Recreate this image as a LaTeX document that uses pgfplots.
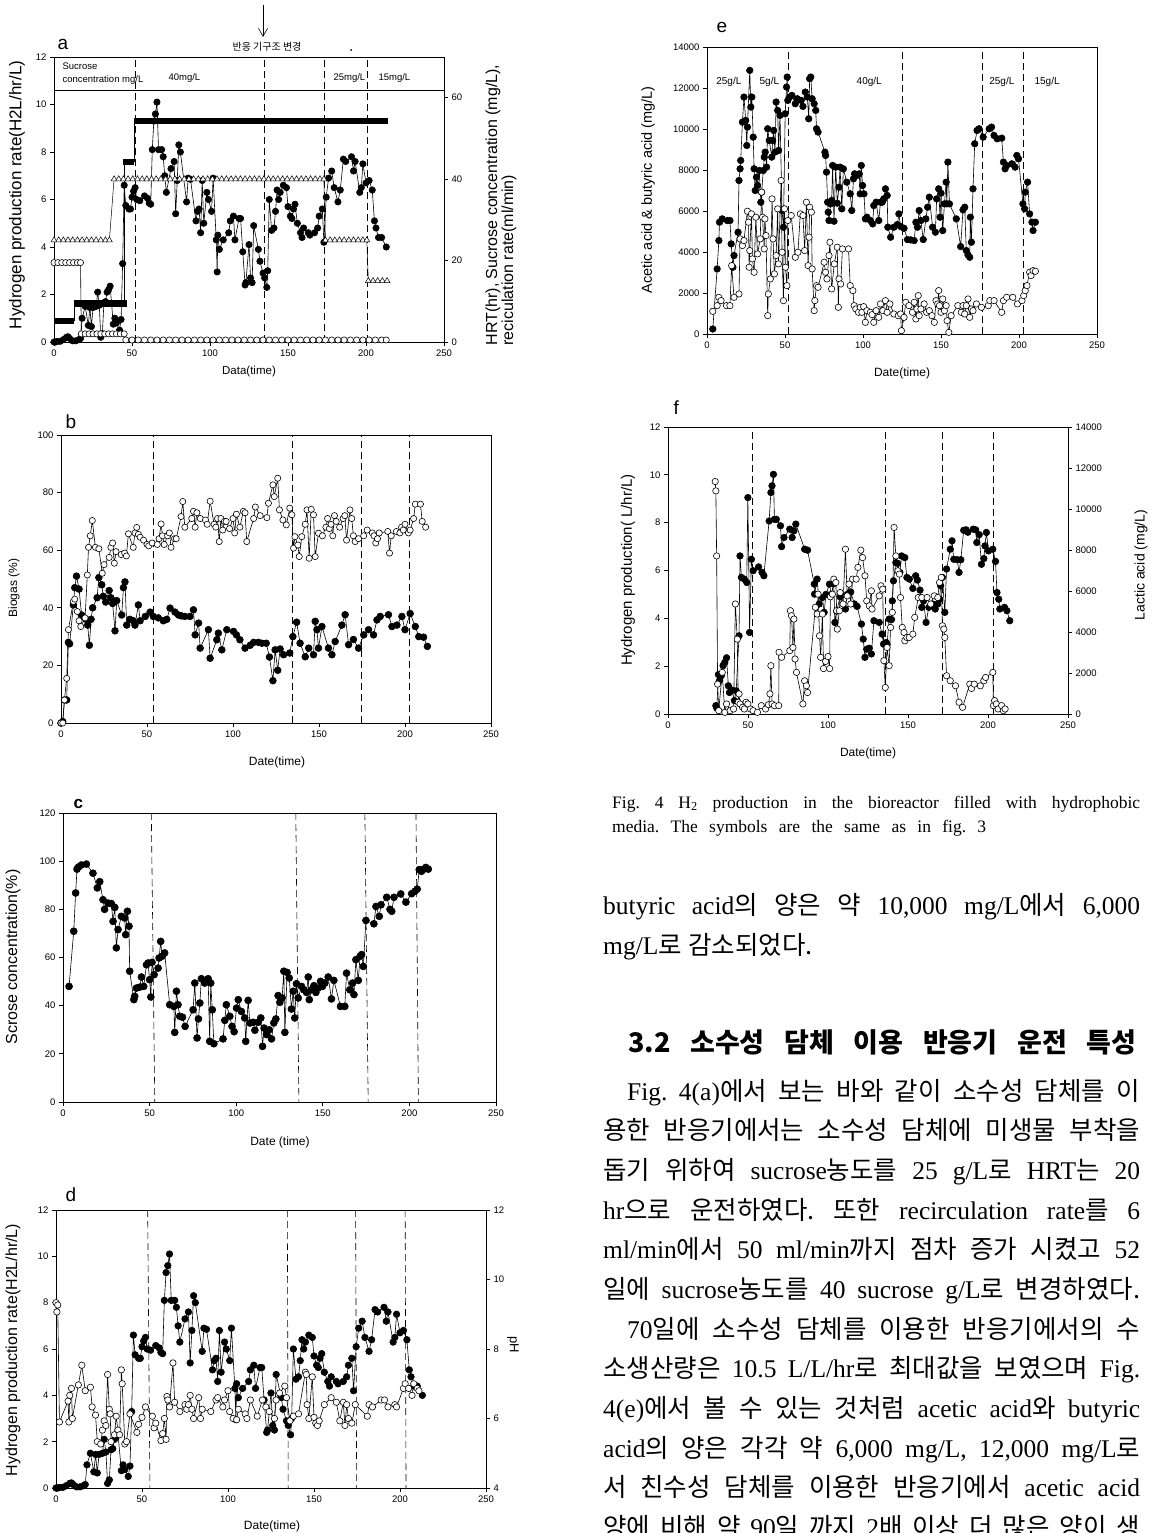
\documentclass[border=0pt]{standalone}
\usepackage{fontspec}
\setmainfont{Liberation Sans}
\newfontfamily\tnr{Liberation Serif}
\newfontfamily\kr{Noto Sans CJK KR}
\usepackage{pgfplots}
\usepackage{pgfplotstable}
\pgfplotsset{compat=1.18}
\usetikzlibrary{arrows.meta}
\newcommand\fs[1]{\fontsize{#1}{#1}\selectfont}
\newcommand\K[1]{{\kr #1}}

\pgfplotsset{
  panel/.style={scale only axis, anchor=south west, axis line style={line width=0.8pt},
    every tick/.style={black,line width=0.7pt}, tick align=outside, major tick length=4pt,
    xtick pos=bottom, ytick pos=left, tick label style={font=\fs{9.5}},
    /pgf/number format/assume math mode=true,
    /pgf/number format/set thousands separator={}, scaled y ticks=false, scaled x ticks=false,
    xmin=0, xmax=250, xtick={0,50,100,150,200,250}, clip=false},
  twin/.style={scale only axis, anchor=south west, axis x line=none, axis y line*=right,
    axis line style={line width=0.8pt}, every tick/.style={black,line width=0.7pt},
    tick align=outside, major tick length=4pt, tick label style={font=\fs{9.5}},
    /pgf/number format/assume math mode=true, scaled y ticks=false,
    /pgf/number format/set thousands separator={}, xmin=0, xmax=250, clip=false},
  fc/.style={black, line width=0.6pt, mark=*, mark size=3.3pt, mark options={fill=black, draw=black, solid}},
  oc/.style={black, line width=0.6pt, mark=*, mark size=3.3pt, mark options={fill=white, draw=black, line width=0.6pt, solid}},
  dsh/.style={black, line width=0.6pt, dash pattern=on 7pt off 4pt, mark=none},
}

% ---------------- data ----------------
\pgfplotstableread{
x y
0 0.0
1 0.0
2 0.02
4 0.03
6 0.1
8 0.2
9 0.22
10 0.15
12 0.05
14 0.05
16 0.1
17 0.15
18 1.0
20 1.5
22 0.7
23 1.45
24 0.65
25 1.45
27 1.5
28 2.1
29 1.55
30 0.2
31 0.35
32 1.65
33 1.7
34 2.1
35 2.2
36 2.35
38 0.75
39 1.0
40 0.8
42 0.5
43 0.95
44 3.3
45 6.6
46 5.75
48 5.6
49 5.6
50 6.1
51 6.35
52 6.5
53 6.0
55 5.95
58 6.15
60 6.05
61 5.85
62 5.8
63 8.1
64 9.3
65 9.6
66 10.1
67 8.1
69 8.1
70 7.8
71 7.0
72 6.3
75 7.3
77 7.6
78 5.4
79 6.8
80 8.3
81 8.0
85 5.9
86 6.9
87.5 6.85
91 5.1
92 5.5
93 5.6
94 4.6
95 6.8
96 5.0
98 6.3
99 6.0
101 5.5
102 6.9
104 4.3
104.6 2.95
105 4.5
106 3.9
108.5 4.3
112 4.6
113 5.1
115 5.3
116 4.3
118.6 5.2
119.6 5.2
121 3.8
122.5 2.4
123 2.5
125 4.1
126 2.7
127 2.5
128 4.9
131 3.9
132 3.4
134 2.9
135 2.7
136.4 2.3
137 3.0
138 6.0
139.5 4.7
141 4.8
142 5.5
143 6.4
144 6.0
145 6.3
147 6.6
149 6.5
150 5.7
151.5 5.3
152.5 5.2
153.5 5.6
154.5 5.8
156 5.0
158 4.6
159 4.4
160 4.8
163 4.6
164 4.5
167 4.6
169 4.8
170 5.3
172 5.6
173 4.2
174.5 6.1
176 6.9
178 7.2
179.6 6.5
182 5.9
183.5 6.4
185.5 7.7
187 7.6
190.7 7.8
192 7.2
193 7.6
196 6.3
197 6.5
198 7.5
200 6.7
202 6.8
204 6.4
205.4 5.1
206.4 4.8
208 4.4
210 4.4
213 4.0
}\hdata

\pgfplotstableread{
x y
0 25
3 25
6 25
9 25
12 25
15 25
18 25
21 25
24 25
27 25
30 25
33 25
35.5 25
38.5 40
41.5 40
44.5 40
47.5 40
50.5 40
53.5 40
56.5 40
59.5 40
62.5 40
65.5 40
68.5 40
71.5 40
74.5 40
77.5 40
80.5 40
83.5 40
86.5 40
89.5 40
92.5 40
95.5 40
98.5 40
101.5 40
104.5 40
107.5 40
110.5 40
113.5 40
116.5 40
119.5 40
122.5 40
125.5 40
128.5 40
131.5 40
134.5 40
137.5 40
140.5 40
143.5 40
146.5 40
149.5 40
152.5 40
155.5 40
158.5 40
161.5 40
164.5 40
167.5 40
170.5 40
173 40
174 25
177 25
180 25
183 25
186 25
189 25
192 25
195 25
198 25
200.5 25
201.5 15
204.5 15
207.5 15
210.5 15
213.5 15
}\asuc

\pgfplotstableread{
x y
0 19.5
2.5 19.5
5 19.5
7.5 19.5
10 19.5
12.5 19.5
15 19.5
17 19.5
17.5 2
20 2
22.5 2
25 2
27.5 2
30 2
32.5 2
35 2
37.5 2
40 2
42.5 2
45 2
46 0.5
50 0.5
54 0.5
58 0.5
62 0.5
66 0.5
70 0.5
74 0.5
78 0.5
82 0.5
86 0.5
90 0.5
94 0.5
98 0.5
102 0.5
106 0.5
110 0.5
114 0.5
118 0.5
122 0.5
126 0.5
130 0.5
134 0.5
138 0.5
142 0.5
146 0.5
150 0.5
154 0.5
158 0.5
162 0.5
166 0.5
170 0.5
174 0.5
178 0.5
182 0.5
186 0.5
190 0.5
194 0.5
198 0.5
202 0.5
206 0.5
210 0.5
213 0.5
}\arec

\pgfplotstableread{
x y
0 0
1 0.5
2 8
3.3 8
4.3 28
5 27.5
7.2 41
8 47
9 51
10.5 46.5
12 37.5
14.5 36
15.5 34
16.5 27
17.5 36
18.4 40
21 43.5
22 50.5
23.7 48
24.6 44
26 42
28 46
29 43.5
30 41.5
31.4 32
32.4 42.5
35.3 37.5
36.3 47
37.2 49
38.2 34
40 36
42 35.5
43 34
45 41
46 35.5
49 37
51.8 38.5
53.7 37
56.6 36.5
59.5 35.5
61.5 36
63.4 39.9
66.3 38.5
68.3 37.5
70 37.2
72 37
75 37
77 39.3
78 30.6
80 34.7
80.9 26
85.7 32.4
86.7 22.5
90.6 28.9
91.5 31.2
93.5 25.4
96.4 32.4
100.3 31.8
102 30.6
104 28.9
107 26
110 27
112 28
114.8 28
116.8 27.7
119.3 27.7
121.2 22.9
123.2 14.7
124.5 25.4
126 18.3
127.4 25.7
129.4 23.7
133 24.3
134.8 30
137 35
139 27.7
142 23
144 26
146.8 23.7
147.8 35.3
148.8 32.4
149.7 26
151.7 33.5
155.5 26
157.5 23.7
159.4 28.3
163.3 34
165.2 37.6
167.2 27.2
170 29
173 26
176 30.6
178.8 32.4
181.7 30.6
183.7 35.8
185.6 37
190.4 37.6
192.4 33.5
195.3 34
198.2 37
200 32.4
203 38
206 33.5
208 30
210.8 29.8
213 26.6
}\bH

\pgfplotstableread{
x y
0 0
1 0
2 8
3.3 15.5
4.3 32.4
7.2 42.2
8 43
9.5 38.7
10.5 35.5
11.5 33.5
14 36.5
15.3 51.4
16 61
17 65
18.2 70.3
20 61
22 60.5
24 52
25 55
28 57.5
29 61
30 62.5
31 55.5
32 59.5
35 58.5
37 59
38 58
39.2 65.7
42 61
43 66
44 67.9
45 65.5
46 64.5
48 63.5
50 62
51 61.5
53 62.5
56 62
57 64
58.2 69.1
59 65
60 62
62 65
63 66
64 61
66 64
67 64
69.8 71.7
70.8 76.9
72 68
76 71
77 73.5
78 68
79 73
81 71
84 70.5
85 69
86.7 77
89 69
90 68
91 71
92 63
93 71
94 67
95 70
96 70
98 67.5
100 71
101 66
102 72.5
104 68
106 73.5
107 73
108 63
112 71
113 75
115.8 72
119.7 71.3
120.6 76.3
123.2 82.7
124 78.6
126 85
127 74
129 70.5
131 68.8
133 74.6
134.2 72.3
135.2 60.7
136 64.7
137.7 61.8
138.5 57.8
140 64.7
142 69
143 74
144.3 57.2
145.5 74.2
146.8 72.3
147.8 57.8
149.7 65.9
152 65
154 68
155 71
156 67.5
157 69
158 65
159 72
160 70
162 68
164 71
165 72
166 63.5
168 74
169 71
170 65
171 63
173 64
176 65
178 67
181 66
182 65
183 62.5
184 64
185 66
190 66.5
191 59
192 65
195 66.5
197 66
198 68
199 67
200 69
202 66
203 67
205 71
206 76
209 76
210 70
212 68
}\bC

\pgfplotstableread{
x y
3.5 48
6.2 70.9
7.3 86.8
8.1 96.7
9 97.6
10.6 98.4
13.5 98.8
17.3 95
19.8 88.9
21.2 91.5
23.1 84
24 80
26 82.6
27.9 82.4
28.9 75
29.9 80.8
30.8 64
31.8 71.6
33.7 77.1
35.6 76.4
36.2 69.5
37.2 79.2
38.1 73
38.5 54.3
40.9 42.5
41.4 43.9
42.4 47.3
44.3 47.7
45.3 51.9
46.6 48
48.2 57
49.1 57.7
50 50.8
50.7 43.6
51.4 58
52.6 52.9
54.9 55.6
55.5 59.8
56.4 66.7
57.2 60.5
58.7 61.9
61.6 40.4
64 39.7
64.5 28.9
65.5 46
66.4 40.4
67.4 35.6
69 35.2
70.5 31.4
75.1 38.3
76.1 49.4
77.4 26.6
78.2 34.5
79 41.1
79.9 51.2
81.8 49.4
83.8 51.2
84.7 25.2
85.3 49.4
86.2 38.3
87.1 24.2
92.4 26.2
93.4 33.9
94.3 40.4
96.3 35.6
97.6 31.4
98.8 29.2
100.2 39
101.2 42.5
103 37.6
104.9 34.9
105.5 25.2
106.9 42.2
107.9 32.8
109.8 33.1
110.8 29.8
112.7 33.1
114.2 34.9
115.2 23.1
116.1 30.7
117.5 28
119 30
120.4 26.2
121.7 32.8
122.9 34.5
124.2 44.2
125.2 41.4
126.5 43.2
127.5 54.3
128.1 28.9
129.4 53.8
130.6 51.5
131.9 38.6
132.9 46
133.8 34.9
134.8 49.1
135.8 43.2
137.7 48
139.1 46.6
140.6 45.5
141.6 51.9
142.2 42.5
143.5 46.6
144.9 48.3
146 45.5
147.3 47.3
148.7 50.1
149.8 48
151.2 49.4
153.1 51.9
155 42.8
156.4 50.5
160.2 39.7
162.7 39.7
163.7 53.5
165.6 46.6
167.2 49.4
168 44.6
169.1 59.1
170.5 50.5
171.5 60.5
172.4 61.2
173.4 56.3
174.9 75.4
179.5 74
180.7 81.2
182.6 77.1
183.6 81.9
186.9 85
188.8 80
189.8 79.2
191.1 85
195 86.4
198 83
201.3 86.5
203.2 87.5
204.5 88.4
205.7 96.5
207 95.8
208.4 96.7
209.5 97.4
210.9 96.7
}\cS

\pgfplotstableread{
x y
0 8.0
0.5 7.6
1 7.9
2 2.85
7 3.75
7.5 2.85
8 4.0
9 4.3
9.5 3.0
13 4.45
15 5.3
17 4.2
20 4.35
21 3.5
23 3.15
24 2.0
26 1.9
27 2.5
28 2.9
29 2.7
30 4.9
31 3.4
31.5 3.2
32 2.0
34 2.3
35 3.1
36 2.5
37 2.3
38 5.1
38.5 4.5
40 1.9
41 2.0
43 3.2
47 2.4
48 2.75
50 3.05
52 3.5
56 3.1
57 2.6
58 2.8
61 2.05
62 2.35
63 3.0
64 2.1
64.5 3.95
65 3.8
66 3.5
68 5.4
69 3.7
72 3.3
75 3.6
76 3.4
77 3.6
78 4.0
79 3.4
80 3.0
83 3.9
84 3.0
85 3.4
90 3.3
93 3.8
94 3.9
97 3.5
98 3.8
100 4.2
101 3.3
103 3.0
105 2.95
106 3.4
110 3.2
111 3.0
113 3.8
117 3.1
120 3.8
122 3.5
124 3.3
127 3.0
128 3.8
130 4.1
133 4.4
134 3.9
136 2.9
138 3.1
141 3.2
145 5.0
145.5 4.9
146 3.6
147 3.0
149 4.8
150 3.05
151 2.8
152 2.7
153 2.9
156 3.6
160 3.9
163 3.7
165 2.9
167 3.7
168 2.7
169 3.6
170 3.0
172 2.8
174 3.6
181 3.1
182 3.6
184 3.5
189 3.8
191 3.8
193 3.5
197 3.6
198 3.5
202 4.3
203 4.5
205 4.3
207 4.0
208 4.5
210 4.3
211 4.2
}\dP

\pgfplotstableread{
x y
3.7 244
6.5 3174
7.6 4558
8 5453
9.7 5616
13 5535
14.7 5535
15.5 4395
16.6 3256
17.3 3826
19.9 4965
20.5 7488
21.2 8058
21.6 8465
22.7 10337
23.7 11558
24.8 10418
25.5 9197
25.9 10093
27.4 12860
28.1 11069
28.7 11558
29.6 9604
30.2 8058
30.9 7000
31.7 7651
32.4 7244
33.5 7976
34.5 6430
35 6918
36.1 7976
36.7 8628
37.3 8872
38.2 8139
38.9 10011
39.9 9441
41.5 8628
42.1 9441
42.7 9930
43.6 8872
44.3 11314
45.3 10907
45.9 8953
46.8 10663
48.1 6023
49 5209
50.1 10744
51 12046
51.4 12534
51.8 11395
52.9 11558
54.4 11639
56.6 11232
57.9 11476
60.4 11395
61.5 11102
63 11802
64.3 11558
65.2 10500
65.8 12453
66.5 12534
67.4 11476
68.7 11232
69.7 10907
70.2 10011
71.2 9849
75.6 8872
76 8709
76.6 7895
77.3 6430
77.7 5942
78.2 5535
79.2 6349
79.9 6512
80.5 8221
81.4 5502
82.5 8139
83.5 6381
84.6 7163
85.3 8139
86.4 6105
87.4 8058
89.6 7407
91.8 6837
92.8 6023
93.9 7570
94.6 7814
96.1 7732
97.6 7814
98.2 6837
98.9 8221
99.7 7244
100.6 6837
101.5 5616
102.5 5697
104.7 5535
106.2 5372
106.9 6267
108.4 6430
110.1 5535
111.2 6430
112.3 6430
113.3 6593
114.4 7081
115.5 6756
115.9 5209
117.7 4721
119.8 5209
122 5339
123 5860
124.1 5242
126.3 5160
128.5 4607
130.6 4590
132.8 4558
133.9 5453
134.9 5209
136 6023
137.1 5535
138.6 4607
140.3 5616
141.4 6186
142.5 6674
144.6 5209
146.4 4965
147.2 6593
148.5 7081
149.4 5697
150 6870
151.1 5046
152.2 6349
153.3 7407
153.7 6349
154.4 8384
155.4 6349
159.8 5616
162.6 4265
164.1 6056
165.2 6186
166.2 4070
167.3 3858
168.4 3744
168.8 5697
169.5 4477
170.5 7081
171.6 9279
173.1 9930
174.4 10011
177 9604
180.9 10011
182.4 10093
184 9686
186 9523
188.9 9555
190 8384
191.1 8058
192.1 8221
195.4 8302
197.5 8139
198.6 8709
199.7 8547
202.5 6349
203.6 6105
204 6918
205.5 7407
206.8 5860
208.3 5453
209 5046
210.5 5453
}\eB

\pgfplotstableread{
x y
3.7 1107
6.5 1384
7.6 1790
9 1628
12.5 1384
14.7 1384
15.8 3337
17.3 1790
20.5 1953
21.2 4640
22.7 4314
23.7 4558
25.9 5990
26.6 5453
27 3256
27.4 4070
28.5 5860
29.1 3663
30.2 3012
31.3 5697
32.4 3907
34.1 4640
35 6918
35.6 5697
36.7 4151
37.1 5616
37.8 4802
38.9 895
39.3 1953
40.6 2686
41.7 6593
42.3 4640
43.2 2930
44.3 3826
45.3 6105
45.8 3418
47.5 7488
48.1 3988
49 1628
49.7 6105
50.3 3256
51.2 2360
51.8 5535
54 5779
56.6 3744
58.3 3988
59.8 5860
61.5 5779
62.6 4070
63.7 6430
64.8 3337
65.4 4721
65.8 6186
66.9 5942
67.4 3174
68.7 1139
69.1 1628
70.2 2360
71.2 2279
75.1 3500
76 3012
76.9 2686
78.2 3826
78.8 4477
79.9 2198
81.6 3418
83.5 4233
84.2 1302
84.6 2686
85.7 2442
86.8 4151
90.7 4151
91.8 2360
93.5 2116
94.3 1384
95.4 1221
97.1 1058
98.2 1302
99.3 1058
100.4 1335
101.5 570
102.5 1139
104.7 1058
105.8 944
106.9 570
108.4 1139
110.1 814
111.2 1465
112.7 1139
114.4 1628
115.5 1058
117.2 1465
119.8 977
122.6 895
124.1 977
124.6 163
126.3 814
127.4 1547
129.5 1384
131.7 1058
132.8 1547
133.9 733
134.5 1221
135.4 1872
136 895
137.1 1221
139.2 1465
140.8 1058
142.5 1139
144.2 895
145.7 570
146.8 1628
147.9 1465
148.5 2116
149 1384
150 1058
151.1 1709
152.2 1139
153.3 1384
153.9 651
155 81
156.5 895
160.8 1384
163 1058
164.1 1384
165.2 977
166.2 1384
167.3 1709
168.4 814
169.5 1221
170.5 1139
172.7 1465
175.9 1302
180.3 1384
181.3 1628
184 1628
188.9 1058
190 1628
192.1 1790
196 1790
199 1465
201.9 1628
203 1872
204 2116
205.1 2360
206.8 3012
207.7 2848
209 3093
210.5 3060
}\eA

\pgfplotstableread{
x y
29.9 0.35
30.5 0.25
31.5 1.65
32.2 1.4
33.3 1.6
34.4 2.02
35.5 2.16
36.6 2.35
37.7 1.18
38.4 0.9
39.9 1.0
41.5 0.56
42.6 0.97
44.4 3.27
45 6.61
45.9 5.71
47.7 5.64
49.2 5.5
49.9 9.05
51 3.41
52.1 6.47
53.2 5.99
56.6 6.15
58.8 5.92
59.9 5.78
63.2 8.07
64.3 9.26
65 9.54
65.9 10.02
66.5 8.14
67.7 8.14
70.3 7.87
71 7.0
72.5 7.38
76.1 7.73
77.6 7.38
78.7 7.66
79.9 7.94
85.4 6.89
87.2 6.85
91.4 5.43
91.6 5.01
93.2 5.64
94.5 4.6
96.5 4.87
97.6 4.25
98.7 5.0
100.9 5.43
102 5.0
103.6 5.45
104.3 3.83
105.4 4.3
107.6 4.9
110.9 4.39
112 5.0
114.2 5.1
116.5 4.6
118.2 4.5
120.9 3.76
122 3.13
123.1 2.37
124.2 2.71
125.8 2.75
127.1 2.51
128.7 3.9
132 3.83
133.8 3.34
134.7 2.92
136.4 2.99
136.9 2.9
138.2 3.97
139.7 3.95
140.2 4.73
140.9 5.57
142.4 6.33
143.5 6.3
144.9 5.92
146 6.61
148 6.54
149.3 5.71
150.8 5.64
153 5.25
154.8 5.78
155.9 5.6
157.5 5.18
158.6 4.46
159.7 4.73
161.3 3.83
163 4.46
165.3 4.6
167 4.39
168.6 4.6
169.7 4.8
170.4 5.36
171.5 5.71
173 4.25
174.1 6.06
176.4 6.89
177.5 7.24
178.6 6.47
180.8 6.45
181.9 5.92
183 6.45
184.8 7.68
186.3 7.7
187.4 7.6
190.8 7.73
192.3 7.7
193 7.17
194.5 7.5
195.9 6.26
197.4 6.5
198.1 7.03
199 7.59
200.3 6.82
203 6.89
204.7 6.38
205.6 5.08
206.7 4.8
207.4 4.39
210.3 4.46
211.8 4.32
213.6 3.9
}\fH

\pgfplotstableread{
x y
29.5 9.72
29.9 9.33
30.4 6.61
31 1.25
31.7 0.14
33.9 1.74
35.5 0.07
36.6 0.42
38.8 0.14
41 0.21
42.1 4.6
43.3 3.13
43.9 0.49
44.4 0.84
45 0.42
46.6 0.28
47.7 0.21
48.8 0.49
49.9 0.42
51.5 0.21
53.2 0.14
55.9 0.07
58.3 0.35
61 0.21
62.8 0.39
63.7 0.84
64.3 2.02
65 0.42
66.5 0.35
69.2 0.35
69.4 2.58
71 2.37
76.1 2.65
76.5 4.32
77.2 4.11
78.1 2.78
78.7 3.97
79.4 2.3
80.3 1.74
84.3 0.42
85.4 1.39
86.5 1.18
87.2 0.9
92.1 4.46
93.2 4.18
93.8 5.01
94.7 3.27
95.4 2.37
96.5 4.18
97.2 1.9
98.5 2.2
100 2.4
101 1.9
101.5 4.9
102.7 5.01
103.6 5.64
104.9 5.5
105.4 4.32
105.8 3.55
107.1 4.32
107.6 5.08
109.4 4.6
110.9 6.89
112 4.94
113.1 5.43
114.2 4.6
115.4 5.64
117.6 5.64
118.7 6.13
120.5 6.85
121.6 6.54
123.1 5.78
124.2 4.73
125.8 4.52
127.1 5.15
127.5 4.39
132 4.94
133.1 5.36
134.2 5.22
134.9 2.23
135.8 1.11
136.9 2.78
138.2 2.02
139.1 3.62
140.2 4.25
141.3 7.8
142.4 6.61
143.7 5.99
144.6 5.85
145.3 4.87
146.4 3.62
147.5 3.41
148 3.06
149.3 3.2
150.8 3.2
153 3.34
154.2 4.04
156.4 4.87
158.6 4.87
161.9 4.87
164.2 4.6
166.4 4.94
168.6 4.87
169.7 5.5
170.8 5.71
171.5 3.69
172.4 3.55
173 3.2
174.1 1.6
176.4 1.39
179.7 1.18
181.9 0.49
184.1 0.28
188.6 1.25
189.7 1.07
191.4 1.25
195.2 1.18
197.4 1.39
198.5 1.53
203 1.74
203.4 0.35
204.1 0.56
205.2 0.42
206.3 0.21
208.5 0.35
209.6 0.14
210.7 0.21
}\fL

\begin{document}
\frenchspacing
\begin{tikzpicture}[x=1pt,y=1pt]
\fill[white] (0,0) rectangle (1152,-1533);
\path[use as bounding box] (0,0) rectangle (1152,-1533);

% ================= panel a =================
\begin{axis}[panel, at={(54pt,-342pt)}, width=390pt, height=285pt, ymin=0, ymax=12, ytick={0,2,4,6,8,10,12}]
\addplot[dsh] coordinates {(52,0) (52,12)};
\addplot[dsh] coordinates {(135,0) (135,12)};
\addplot[dsh] coordinates {(173,0) (173,12)};
\addplot[dsh] coordinates {(201,0) (201,12)};
\addplot[black, line width=0.7pt, mark=none] coordinates {(0,10.6) (250,10.6)};
\addplot[fc, mark size=3.2pt] table[x=x,y=y] {\hdata};
\end{axis}
\begin{axis}[twin, at={(54pt,-342pt)}, width=390pt, height=285pt, ymin=0, ymax=70, ytick={0,20,40,60}]
\addplot[black, line width=6.5pt, mark=none] coordinates {(0,5.1) (13,5.1)};
\addplot[black, line width=6.5pt, mark=none] coordinates {(12.5,9.4) (47,9.4)};
\addplot[black, line width=6.5pt, mark=none] coordinates {(44.5,44.2) (51,44.2)};
\addplot[black, line width=6.5pt, mark=none] coordinates {(51.5,54.3) (214,54.3)};
\addplot[black, line width=0.6pt, mark=none] coordinates {(13,5.1) (13,9.4)};
\addplot[black, line width=0.6pt, mark=none] coordinates {(45,9.4) (45,44.2)};
\addplot[black, line width=0.6pt, mark=none] coordinates {(51.2,44.2) (51.2,54.3)};
\addplot[black, line width=0.5pt, mark=triangle*, mark size=3.4pt, mark options={fill=white, draw=black, line width=0.5pt}] table[x=x,y=y] {\asuc};
\addplot[oc, mark size=3.1pt] table[x=x,y=y] {\arec};
\end{axis}
\node[anchor=base west, font=\fs{19}] at (54,-50) {a};
\node[anchor=base west, font=\fs{9.5}] at (59,-70) {Sucrose};
\node[anchor=base west, font=\fs{9.5}] at (59,-83) {concentration mg/L};
\node[anchor=base west, font=\fs{9.5}] at (165,-81) {40mg/L};
\node[anchor=base west, font=\fs{9.5}] at (330,-81) {25mg/L};
\node[anchor=base west, font=\fs{9.5}] at (375,-81) {15mg/L};
\draw[line width=0.6pt, -{Straight Barb[length=8pt,width=9pt]}] (263,-5) -- (263,-37);
\node[font=\kr\fs{10}] at (267,-47) {반응 기구조 변경};
\fill (351,-50) circle (1pt);
\node[rotate=90, font=\fs{17}] at (17,-195) {Hydrogen production rate(H2L/hr/L)};
\node[rotate=90, anchor=west, font=\fs{16}] at (493,-349) {HRT(hr), Sucrose concentration (mg/L),};
\node[rotate=90, anchor=west, font=\fs{16}] at (509,-349) {reciculation rate(ml/min)};
\node[font=\fs{11.5}] at (249,-372) {Data(time)};

% ================= panel b =================
\begin{axis}[panel, at={(61pt,-723pt)}, width=430pt, height=288pt, ymin=0, ymax=100, ytick={0,20,40,60,80,100}]
\addplot[dsh] coordinates {(53.7,0) (53.7,100)};
\addplot[dsh] coordinates {(134.2,0) (134.2,100)};
\addplot[dsh] coordinates {(174.4,0) (174.4,100)};
\addplot[dsh] coordinates {(202.7,0) (202.7,100)};
\addplot[fc, mark size=3.4pt] table[x=x,y=y] {\bH};
\addplot[oc, mark size=3.1pt] table[x=x,y=y] {\bC};
\end{axis}
\node[anchor=base west, font=\fs{19}] at (62,-428) {b};
\node[rotate=90, font=\fs{12}] at (14,-588) {Biogas (\%)};
\node[font=\fs{12}] at (277,-762) {Date(time)};

% ================= panel c =================
\begin{axis}[panel, at={(63pt,-1102pt)}, width=433pt, height=289pt, ymin=0, ymax=120, ytick={0,20,40,60,80,100,120}]
\addplot[dsh] coordinates {(51,120) (53,0)};
\addplot[dsh] coordinates {(134.4,120) (136.2,0)};
\addplot[dsh] coordinates {(174.3,120) (176.2,0)};
\addplot[dsh] coordinates {(203.8,120) (205.2,0)};
\addplot[fc, mark size=3.5pt] table[x=x,y=y] {\cS};
\end{axis}
\node[anchor=base west, font=\bfseries\fs{17}] at (70,-808) {c};
\node[rotate=90, font=\fs{16}] at (13,-957) {Scrose concentration(\%)};
\node[font=\fs{12}] at (280,-1142) {Date (time)};

% ================= panel d =================
\begin{axis}[panel, at={(56pt,-1488pt)}, width=430pt, height=278pt, ymin=0, ymax=12, ytick={0,2,4,6,8,10,12}]
\addplot[dsh] coordinates {(53.3,12) (54.6,0)};
\addplot[dsh] coordinates {(134.5,12) (135,0)};
\addplot[dsh] coordinates {(174.2,12) (174.8,0)};
\addplot[dsh] coordinates {(203,12) (203.5,0)};
\addplot[fc, mark size=3.3pt] table[x=x,y=y] {\hdata};
\addplot[oc, mark size=3.2pt] table[x=x,y=y] {\dP};
\end{axis}
\begin{axis}[twin, at={(56pt,-1488pt)}, width=430pt, height=278pt, ymin=4, ymax=12, ytick={4,6,8,10,12}]
\addplot[draw=none, mark=none] coordinates {(0,4)};
\end{axis}
\node[anchor=base west, font=\fs{19}] at (62,-1201) {d};
\node[rotate=90, font=\fs{16}] at (13,-1350) {Hydrogen production rate(H2L/hr/L)};
\node[font=\fs{12}] at (272,-1526) {Date(time)};
\node[rotate=-90, font=\fs{13}] at (513,-1345) {pH};

% ================= panel e =================
\begin{axis}[panel, at={(707pt,-334pt)}, width=390pt, height=287pt, ymin=0, ymax=14000, ytick={0,2000,4000,6000,8000,10000,12000,14000}]
\addplot[dsh] coordinates {(52,0) (52,14000)};
\addplot[dsh] coordinates {(125.2,0) (125.2,14000)};
\addplot[dsh] coordinates {(176.6,0) (176.6,14000)};
\addplot[dsh] coordinates {(203,0) (203,14000)};
\addplot[fc, mark size=3.3pt] table[x=x,y=y] {\eB};
\addplot[oc, mark size=3.2pt] table[x=x,y=y] {\eA};
\node[font=\fs{10}] at (axis cs:14,12300) {25g/L};
\node[font=\fs{10}] at (axis cs:40,12300) {5g/L};
\node[font=\fs{10}] at (axis cs:104,12300) {40g/L};
\node[font=\fs{10}] at (axis cs:189,12300) {25g/L};
\node[font=\fs{10}] at (axis cs:218,12300) {15g/L};
\end{axis}
\node[anchor=base west, font=\fs{19}] at (713,-33) {e};
\node[rotate=90, font=\fs{14.5}] at (648,-190) {Acetic acid \& butyric acid (mg/L)};
\node[font=\fs{12}] at (902,-373) {Date(time)};

% ================= panel f =================
\begin{axis}[panel, at={(668pt,-714pt)}, width=400pt, height=287pt, ymin=0, ymax=12, ytick={0,2,4,6,8,10,12}]
\addplot[dsh] coordinates {(52.8,0) (52.8,12)};
\addplot[dsh] coordinates {(135.8,0) (135.8,12)};
\addplot[dsh] coordinates {(171.5,0) (171.5,12)};
\addplot[dsh] coordinates {(203,0) (203,12)};
\addplot[fc, mark size=3.3pt] table[x=x,y=y] {\fH};
\addplot[oc, mark size=3.2pt] table[x=x,y=y] {\fL};
\end{axis}
\begin{axis}[twin, at={(668pt,-714pt)}, width=400pt, height=287pt, ymin=0, ymax=14000, ytick={0,2000,4000,6000,8000,10000,12000,14000}]
\addplot[draw=none, mark=none] coordinates {(0,0)};
\end{axis}
\node[anchor=base west, font=\fs{19}] at (670,-414) {f};
\node[rotate=90, font=\fs{15}] at (628,-570) {Hydrogen production( L/hr/L)};
\node[rotate=90, font=\fs{14}] at (1141,-565) {Lactic acid (mg/L)};
\node[font=\fs{12}] at (868,-753) {Date(time)};

% ================= caption & text =================
\node[anchor=base west, inner sep=0pt, font=\tnr\fs{17.5}] at (612,-808) {\makebox[528pt][s]{Fig. 4 H\textsubscript{2} production in the bioreactor filled with hydrophobic}};
\node[anchor=base west, inner sep=0pt, font=\tnr\fs{17.5}] at (612,-832) {\makebox[374pt][s]{media. The symbols are the same as in fig. 3}};

\node[anchor=base west, inner sep=0pt, font=\tnr\fs{25.5}] at (603,-914) {\makebox[537pt][s]{butyric acid\K{의} \K{양은} \K{약} 10,000 mg/L\K{에서} 6,000}};
\node[anchor=base west, inner sep=0pt, font=\tnr\fs{25.5}] at (603,-954) {mg/L\K{로} \K{감소되었다.}};

\node[anchor=base west, inner sep=0pt, font=\kr\bfseries\fs{27}] at (628,-1052) {\makebox[508pt][s]{3.2 소수성 담체 이용 반응기 운전 특성}};

\node[anchor=base west, inner sep=0pt, font=\tnr\fs{25.5}] at (627,-1100) {\makebox[513pt][s]{Fig. 4(a)\K{에서} \K{보는} \K{바와} \K{같이} \K{소수성} \K{담체를} \K{이}}};
\node[anchor=base west, inner sep=0pt, font=\tnr\fs{25.5}] at (603,-1139.6) {\makebox[537pt][s]{\K{용한} \K{반응기에서는} \K{소수성} \K{담체에} \K{미생물} \K{부착을}}};
\node[anchor=base west, inner sep=0pt, font=\tnr\fs{25.5}] at (603,-1179.3) {\makebox[537pt][s]{\K{돕기} \K{위하여} sucrose\K{농도를} 25 g/L\K{로} HRT\K{는} 20}};
\node[anchor=base west, inner sep=0pt, font=\tnr\fs{25.5}] at (603,-1219) {\makebox[537pt][s]{hr\K{으로} \K{운전하였다.} \K{또한} recirculation rate\K{를} 6}};
\node[anchor=base west, inner sep=0pt, font=\tnr\fs{25.5}] at (603,-1258.6) {\makebox[537pt][s]{ml/min\K{에서} 50 ml/min\K{까지} \K{점차} \K{증가} \K{시켰고} 52}};
\node[anchor=base west, inner sep=0pt, font=\tnr\fs{25.5}] at (603,-1298.3) {\makebox[537pt][s]{\K{일에} sucrose\K{농도를} 40 sucrose g/L\K{로} \K{변경하였다.}}};
\node[anchor=base west, inner sep=0pt, font=\tnr\fs{25.5}] at (627,-1338) {\makebox[513pt][s]{70\K{일에} \K{소수성} \K{담체를} \K{이용한} \K{반응기에서의} \K{수}}};
\node[anchor=base west, inner sep=0pt, font=\tnr\fs{25.5}] at (603,-1377.6) {\makebox[537pt][s]{\K{소생산량은} 10.5 L/L/hr\K{로} \K{최대값을} \K{보였으며} Fig.}};
\node[anchor=base west, inner sep=0pt, font=\tnr\fs{25.5}] at (603,-1417.3) {\makebox[537pt][s]{4(e)\K{에서} \K{볼} \K{수} \K{있는} \K{것처럼} acetic acid\K{와} butyric}};
\node[anchor=base west, inner sep=0pt, font=\tnr\fs{25.5}] at (603,-1457) {\makebox[537pt][s]{acid\K{의} \K{양은} \K{각각} \K{약} 6,000 mg/L, 12,000 mg/L\K{로}}};
\node[anchor=base west, inner sep=0pt, font=\tnr\fs{25.5}] at (603,-1496.6) {\makebox[537pt][s]{\K{서} \K{친수성} \K{담체를} \K{이용한} \K{반응기에서} acetic acid}};
\node[anchor=base west, inner sep=0pt, font=\tnr\fs{25.5}] at (603,-1536.3) {\makebox[537pt][s]{\K{양에} \K{비해} \K{약} 90\K{일} \K{까지} 2\K{배} \K{이상} \K{더} \K{많은} \K{양이} \K{생}}};
\end{tikzpicture}
\end{document}
